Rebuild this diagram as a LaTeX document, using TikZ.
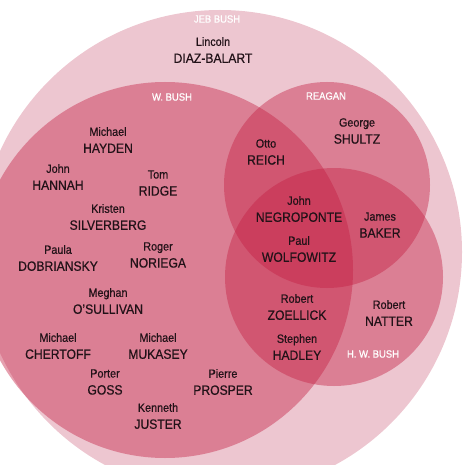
\documentclass[tikz,border=0pt]{standalone}
\usepackage{fontspec}
\setmainfont{Liberation Sans}[FakeStretch=0.9, FakeBold=0.6]
\definecolor{jebpink}{RGB}{237,198,208}
\definecolor{bushred}{RGB}{196,30,66}
\definecolor{namegray}{RGB}{34,18,24}
\newcommand{\bigname}{\fontsize{13.5}{17}\selectfont}
\begin{document}
\begin{tikzpicture}[x=1pt,y=-1pt]
\tikzstyle{every node} = [inner sep=0pt, align=center, text=namegray, font=\fontsize{12}{17}\selectfont]
\tikzstyle{ring} = [fill=bushred, fill opacity=0.42]
\tikzstyle{tag} = [text=white, font=\fontsize{10.5}{12}\selectfont]
\useasboundingbox (0,0) rectangle (465,465);
\clip (0,0) rectangle (465,465);

% circles
\coordinate (jeb) at (220,252);
\coordinate (wbush) at (165,270);
\coordinate (reagan) at (327,185);
\coordinate (hwbush) at (334,277);
\fill[jebpink] (jeb) circle [radius=242pt];
\fill[ring] (wbush) circle [radius=188pt];
\fill[ring] (reagan) circle [radius=103pt];
\fill[ring] (hwbush) circle [radius=109pt];

\node[tag] (jebtag) at (217,19) {JEB BUSH};
\node[tag] (wbushtag) at (172,97) {W. BUSH};
\node[tag] (reagantag) at (326,96) {REAGAN};
\node[tag] (hwbushtag) at (373,354) {H. W. BUSH};

% names
\node (diazbalart) at (213,50) {Lincoln\\\bigname DIAZ-BALART};
\node (hayden) at (108,140) {Michael\\\bigname HAYDEN};
\node (hannah) at (58,177) {John\\\bigname HANNAH};
\node (ridge) at (158,183) {Tom\\\bigname RIDGE};
\node (silverberg) at (108,217) {Kristen\\\bigname SILVERBERG};
\node (dobriansky) at (58,258) {Paula\\\bigname DOBRIANSKY};
\node (noriega) at (158,255) {Roger\\\bigname NORIEGA};
\node (osullivan) at (108,301) {Meghan\\\bigname O'SULLIVAN};
\node (chertoff) at (58,346) {Michael\\\bigname CHERTOFF};
\node (mukasey) at (158,346) {Michael\\\bigname MUKASEY};
\node (goss) at (105,382) {Porter\\\bigname GOSS};
\node (prosper) at (223,382) {Pierre\\\bigname PROSPER};
\node (juster) at (158,416) {Kenneth\\\bigname JUSTER};
\node (shultz) at (357,131) {George\\\bigname SHULTZ};
\node (reich) at (266,152) {Otto\\\bigname REICH};
\node (negroponte) at (299,209) {John\\\bigname NEGROPONTE};
\node (baker) at (380,225) {James\\\bigname BAKER};
\node (wolfowitz) at (299,249) {Paul\\\bigname WOLFOWITZ};
\node (zoellick) at (297,307) {Robert\\\bigname ZOELLICK};
\node (natter) at (389,313) {Robert\\\bigname NATTER};
\node (hadley) at (297,347) {Stephen\\\bigname HADLEY};
\end{tikzpicture}
\end{document}
